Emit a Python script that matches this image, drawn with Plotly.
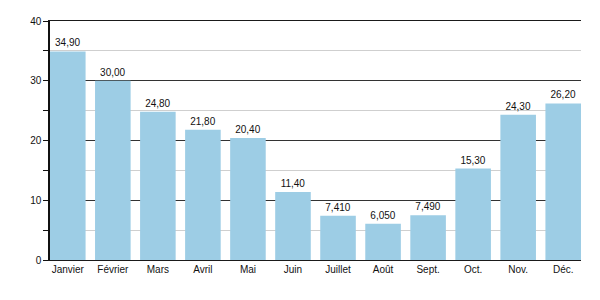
import plotly.graph_objects as go

months = ["Janvier", "Février", "Mars", "Avril", "Mai", "Juin", "Juillet", "Août", "Sept.", "Oct.", "Nov.", "Déc."]
values = [34.9, 30.0, 24.8, 21.8, 20.4, 11.4, 7.41, 6.05, 7.49, 15.3, 24.3, 26.2]
labels = [format(v, "#.4g").replace(".", ",") for v in values]

gap = 0.21

fig = go.Figure(go.Bar(
    x=months, y=values, text=labels, textposition="outside",
    textfont=dict(size=10, color="#111"),
    marker=dict(color="#9dcde5", line=dict(width=0)),
    cliponaxis=False,
))

fig.update_layout(
    width=600, height=300,
    margin=dict(l=50, r=19, t=21, b=40),
    plot_bgcolor="white", paper_bgcolor="white",
    font=dict(family="Liberation Sans, Arial, sans-serif", size=10, color="#111"),
    bargap=gap,
    showlegend=False,
)
fig.update_yaxes(
    range=[0, 40], tickvals=[0, 10, 20, 30, 40], showgrid=True, gridcolor="#333333", gridwidth=1,
    showline=True, linecolor="#111", linewidth=1.5,
    ticks="outside", ticklen=5, tickcolor="#111", zeroline=False,
    minor=dict(tickvals=[5, 15, 25, 35], showgrid=True, gridcolor="#cfcfcf", ticks="outside", ticklen=5, tickcolor="#111"),
    tickfont=dict(size=10),
)
fig.update_xaxes(
    range=[-0.5 + gap / 2, len(months) - 0.5 - gap / 2],
    showline=True, mirror=True, linecolor="#1a1a1a", linewidth=1.3, ticks="", showgrid=False,
    tickfont=dict(size=10),
)

fig.write_html("out.html")
